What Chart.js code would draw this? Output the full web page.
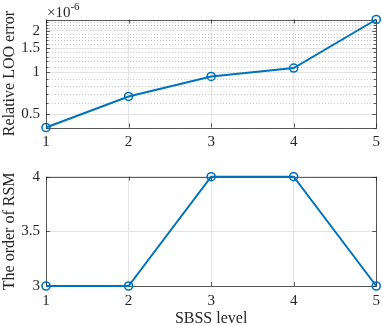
<!DOCTYPE html>
<html><head><meta charset="utf-8">
<script src="https://cdn.jsdelivr.net/npm/chart.js@4/dist/chart.umd.min.js"></script>
<style>
html,body{margin:0;padding:0;background:#fff;}
#wrap{position:relative;width:382px;height:325px;overflow:hidden;}
#c1{position:absolute;left:0;top:0;}
#c2{position:absolute;left:0;top:160px;}
</style></head>
<body><div id="wrap"><canvas id="c1" width="386" height="160"></canvas><canvas id="c2" width="386" height="165"></canvas></div>
<script>
const xLevels = [1, 2, 3, 4, 5];
const looError = [0.40e-6, 0.67e-6, 0.935e-6, 1.075e-6, 2.41e-6];
const rsmOrder = [3, 3, 4, 4, 3];
const looTickLabels = [0.5, 1, 1.5, 2];          // in units of 1e-6
const looMinorTicks = [0.4,0.6,0.7,0.8,0.9,1.1,1.2,1.3,1.4,1.6,1.7,1.8,1.9,2.1,2.2,2.3,2.4]; // in units of 1e-6
const rsmTicks = [3, 3.5, 4];
const xTitle = 'SBSS level';
const yTitleTop = 'Relative LOO error';
const yTitleBottom = 'The order of RSM';

const FONT = '"Liberation Serif","DejaVu Serif",serif';
const TXT = '#262626';
const AXC = 'rgba(38,38,38,0.75)';
const GRID = '#e3e3e3';
const BLUE = '#0072BD';
Chart.defaults.font.family = FONT;
Chart.defaults.color = TXT;
Chart.defaults.animation = false;

function boxPlugin(minorVals, multiplier){
  return {
    id: 'box',
    beforeDatasetsDraw(chart){
      const ctx = chart.ctx, a = chart.chartArea;
      const xs = chart.scales.x, ys = chart.scales.y;
      ctx.save();
      if (minorVals){
        ctx.strokeStyle = 'rgba(150,150,150,0.55)';
        ctx.lineWidth = 1;
        ctx.setLineDash([1,2]);
        minorVals.forEach(v=>{
          const y = Math.round(ys.getPixelForValue(v*1e-6))+0.5;
          ctx.beginPath(); ctx.moveTo(a.left, y); ctx.lineTo(a.right, y); ctx.stroke();
        });
        ctx.setLineDash([]);
      }
      ctx.strokeStyle = AXC; ctx.lineWidth = 1;
      ctx.strokeRect(Math.round(a.left)+0.5, Math.round(a.top)+0.5, Math.round(a.right-a.left), Math.round(a.bottom-a.top));
      xLevels.forEach(v=>{
        const x = Math.round(xs.getPixelForValue(v))+0.5;
        ctx.beginPath();
        ctx.moveTo(x, a.bottom); ctx.lineTo(x, a.bottom-4);
        ctx.moveTo(x, a.top); ctx.lineTo(x, a.top+4);
        ctx.stroke();
      });
      ys.ticks.forEach(t=>{
        const y = Math.round(ys.getPixelForValue(t.value))+0.5;
        ctx.beginPath();
        ctx.moveTo(a.left, y); ctx.lineTo(a.left+4, y);
        ctx.moveTo(a.right, y); ctx.lineTo(a.right-4, y);
        ctx.stroke();
      });
      if (minorVals){
        minorVals.forEach(v=>{
          const y = Math.round(ys.getPixelForValue(v*1e-6))+0.5;
          ctx.beginPath();
          ctx.moveTo(a.left, y); ctx.lineTo(a.left+2.5, y);
          ctx.moveTo(a.right, y); ctx.lineTo(a.right-2.5, y);
          ctx.stroke();
        });
      }
      if (multiplier){
        ctx.fillStyle = TXT;
        ctx.textBaseline = 'alphabetic';
        ctx.textAlign = 'left';
        ctx.font = '15px ' + FONT;
        ctx.fillText('\u00d710', a.left+1, a.top-3);
        const w = ctx.measureText('\u00d710').width;
        ctx.font = '11px ' + FONT;
        ctx.fillText('-6', a.left+1+w, a.top-10);
      }
      ctx.restore();
    }
  };
}

function makeDataset(vals){
  return {
    data: xLevels.map((x,i)=>({x:x, y:vals[i]})),
    borderColor: BLUE, backgroundColor: 'rgba(0,0,0,0)',
    borderWidth: 2, pointRadius: 4, pointBorderWidth: 1.6,
    pointBorderColor: BLUE, pointBackgroundColor: 'rgba(0,0,0,0)',
    clip: false, tension: 0
  };
}

const xScaleBase = (showTitle)=>({
  type: 'linear', min: xLevels[0], max: xLevels[xLevels.length-1],
  afterBuildTicks: s=>{ s.ticks = xLevels.map(v=>({value:v})); },
  grid: {color: GRID, drawTicks: false},
  border: {display: false},
  ticks: {font:{size:15}, padding: 6, maxRotation:0, callback: v=>String(v)},
  title: {display: showTitle, text: xTitle, font:{size:16}, padding:{top:-3,bottom:-3}},
  afterFit: s=>{ s.height = showTitle ? 39 : 32.5; }
});

new Chart(document.getElementById('c1'), {
  type: 'line',
  data: {datasets: [makeDataset(looError)]},
  options: {
    responsive: false, maintainAspectRatio: false,
    layout: {padding: {left: 0, right: 0, top: 19.5, bottom: 0}},
    plugins: {legend:{display:false}, tooltip:{enabled:false}},
    scales: {
      x: xScaleBase(false),
      y: {
        type: 'logarithmic', min: Math.min(...looError), max: Math.max(...looError),
        afterBuildTicks: s=>{ s.ticks = looTickLabels.map(v=>({value:v*1e-6})); },
        grid: {color: GRID, drawTicks: false},
        border: {display: false},
        ticks: {font:{size:15}, padding: 6, callback: v=>String(Math.round(v/1e-7)/10)},
        title: {display: true, text: yTitleTop, font:{size:16}, padding:{top:0,bottom:0}},
        afterFit: s=>{ s.width = 46; }
      }
    }
  },
  plugins: [boxPlugin(looMinorTicks, true)]
});

new Chart(document.getElementById('c2'), {
  type: 'line',
  data: {datasets: [makeDataset(rsmOrder)]},
  options: {
    responsive: false, maintainAspectRatio: false,
    layout: {padding: {left: 0, right: 0, top: 16.7, bottom: 0}},
    plugins: {legend:{display:false}, tooltip:{enabled:false}},
    scales: {
      x: xScaleBase(true),
      y: {
        type: 'linear', min: rsmTicks[0], max: rsmTicks[rsmTicks.length-1],
        afterBuildTicks: s=>{ s.ticks = rsmTicks.map(v=>({value:v})); },
        grid: {color: GRID, drawTicks: false},
        border: {display: false},
        ticks: {font:{size:15}, padding: 6, callback: v=>String(v)},
        title: {display: true, text: yTitleBottom, font:{size:16}, padding:{top:0,bottom:0}},
        afterFit: s=>{ s.width = 46; }
      }
    }
  },
  plugins: [boxPlugin(null, false)]
});
</script></body></html>
